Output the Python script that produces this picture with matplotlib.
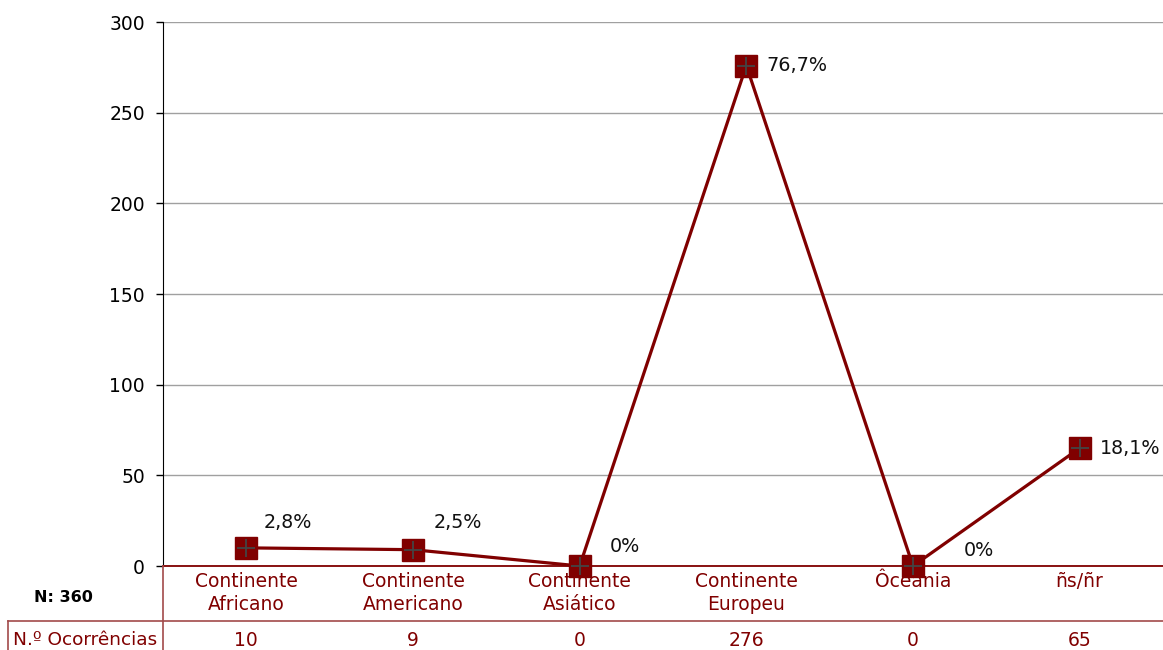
import matplotlib
matplotlib.use("Agg")
import matplotlib.pyplot as plt
from matplotlib.lines import Line2D

# data
categorias = ["Continente\nAfricano", "Continente\nAmericano", "Continente\nAsiático",
              "Continente\nEuropeu", "Ôceania", "ñs/ñr"]
ocorrencias = [10, 9, 0, 276, 0, 65]
percentagens = ["2,8%", "2,5%", "0%", "76,7%", "0%", "18,1%"]
total_n = 360
y_ticks = [0, 50, 100, 150, 200, 250, 300]

# label offsets in pixels (dx, dy) relative to each point
label_offsets = [(17, 25), (21, 27), (30, 20), (20, 0), (51, 16), (20, 0)]

dark_red = "#800000"
table_red = "#a24a4a"
W, H = 1163, 650

plt.rcParams['font.family'] = ['DejaVu Sans']
fig = plt.figure(figsize=(W / 100, H / 100), dpi=100)
ax = fig.add_axes([163 / W, (H - 566) / H, 1 - 163 / W, (566 - 22) / H])

x = list(range(len(categorias)))
ax.plot(x, ocorrencias, color=dark_red, lw=2.3, zorder=3, clip_on=False)
ax.plot(x, ocorrencias, ls="none", marker="s", ms=15.5, mfc=dark_red,
        mec=dark_red, zorder=4, clip_on=False)
ax.plot(x, ocorrencias, ls="none", marker="+", ms=13, mec="#444444",
        mew=1.3, zorder=5, clip_on=False)

for xi, yi, txt, (dx, dy) in zip(x, ocorrencias, percentagens, label_offsets):
    ax.annotate(txt, (xi, yi), xytext=(dx * 0.72, dy * 0.72), textcoords="offset points",
                ha="left", va="center", fontsize=13.8, color="#111111", zorder=6)

ax.set_xlim(-0.5, len(categorias) - 0.5)
ax.set_ylim(0, 300)
ax.set_yticks(y_ticks)
ax.tick_params(axis="y", direction="out", length=5, width=1, pad=8,
               labelsize=13.5, colors="black")
ax.yaxis.grid(True, color="#a0a0a0", lw=1)
ax.set_axisbelow(True)
for s in ["top", "right"]:
    ax.spines[s].set_visible(False)
ax.spines["left"].set_color("black")
ax.spines["bottom"].set_color(dark_red)
ax.spines["bottom"].set_linewidth(1.3)
ax.spines["bottom"].set_zorder(2.5)

ax.set_xticks(x)
ax.set_xticklabels(categorias, color=dark_red, fontsize=13.5, linespacing=1.28)
ax.tick_params(axis="x", length=0, pad=4)

# data table below the chart
def fx(px):
    return px / W

def fy(py):
    return (H - py) / H

fig.add_artist(Line2D([fx(8), 1], [fy(621), fy(621)], color=table_red, lw=1.2))
fig.add_artist(Line2D([fx(163), fx(163)], [fy(566), 0], color=table_red, lw=1.2))
fig.add_artist(Line2D([fx(8), fx(8)], [fy(621), 0], color=table_red, lw=1.2))

fig.text(fx(63), fy(598), f"N: {total_n}", ha="center", va="center",
         fontsize=11.5, fontweight="bold", color="black")
fig.text(fx(85.5), fy(640), "N.º Ocorrências", ha="center", va="center",
         fontsize=13.3, color=dark_red)
for xi, v in zip(x, ocorrencias):
    px = ax.transData.transform((xi, 0))[0]
    fig.text(px / W, fy(640), str(v), ha="center", va="center",
             fontsize=13.5, color=dark_red)

fig.savefig("out.png", dpi=100)
